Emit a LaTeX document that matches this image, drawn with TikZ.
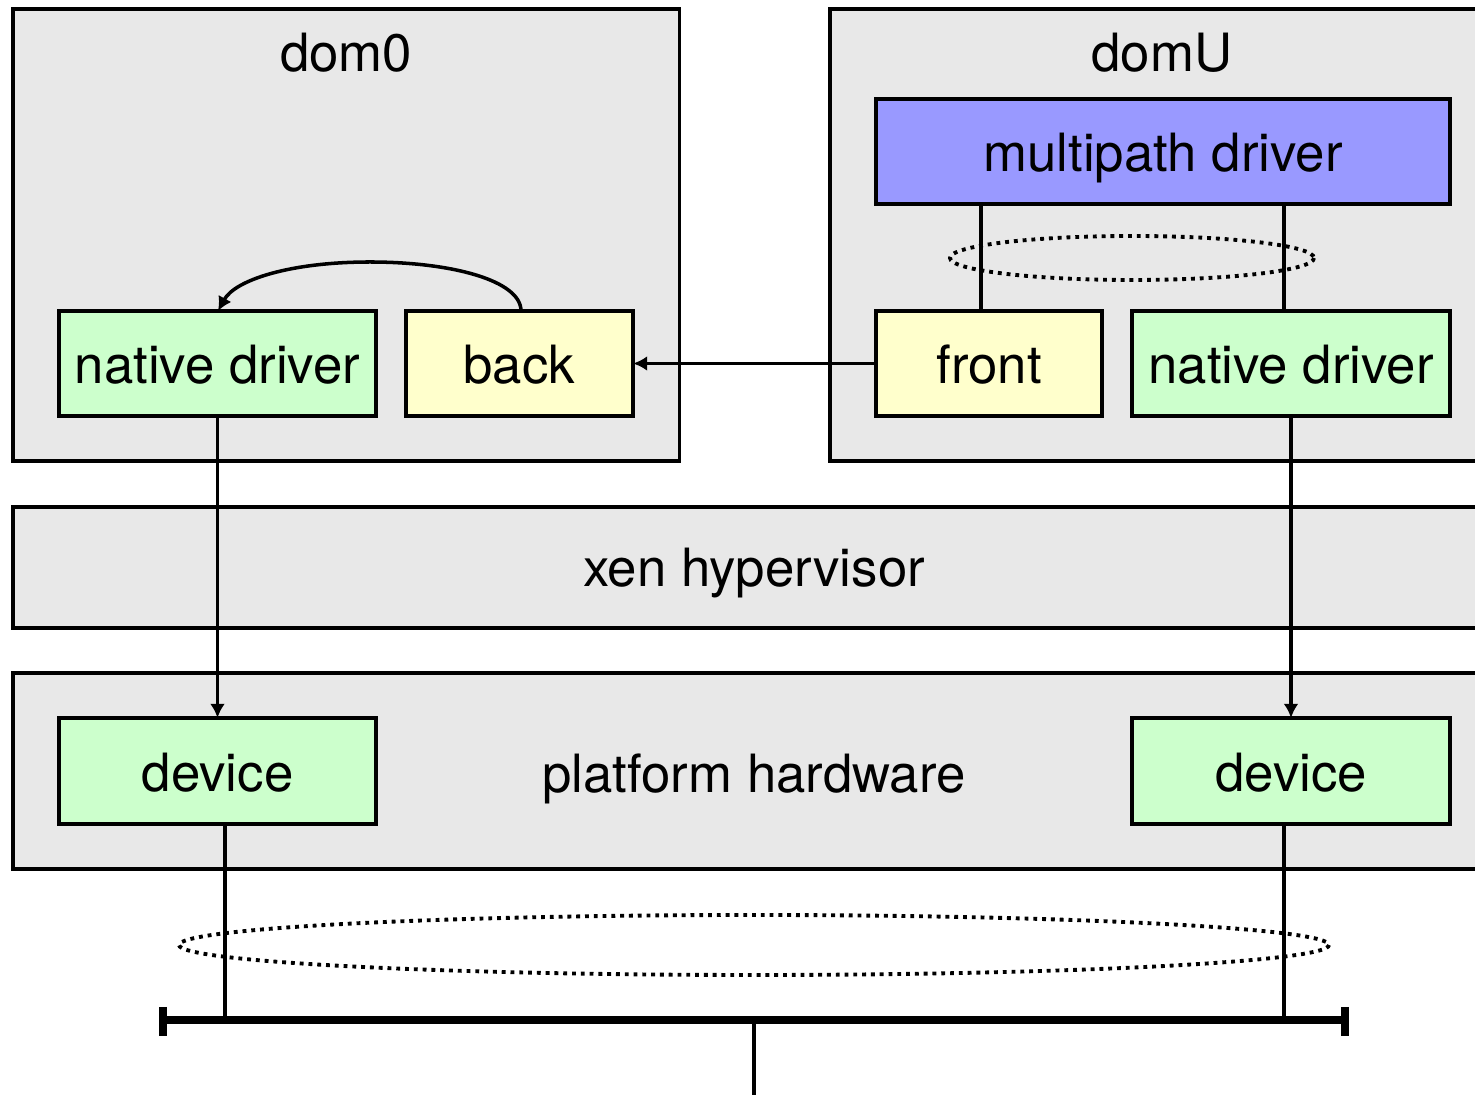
\documentclass[tikz,border=0pt]{standalone}
\usepackage{fontspec}
\setmainfont{TeX Gyre Heros}
\usetikzlibrary{arrows.meta}
\definecolor{panelgray}{HTML}{E8E8E8}
\definecolor{natgreen}{HTML}{CCFFCC}
\definecolor{pyellow}{HTML}{FFFFCC}
\definecolor{mpblue}{HTML}{9999FF}
\begin{document}
\begin{tikzpicture}[x=0.01cm,y=-0.01cm,
  panel/.style={draw, line width=1pt, fill=panelgray, inner sep=0pt, outer sep=0pt, anchor=north west},
  box/.style={draw, line width=1pt, inner sep=0pt, outer sep=0pt, text height=11.6pt, text depth=0pt, font=\fontsize{15}{18}\selectfont},
  lbl/.style={inner sep=0pt, anchor=base, font=\fontsize{15}{18}\selectfont},
  conn/.style={line width=1pt},
  arr/.style={conn, -{Latex[length=4pt,width=4.2pt]}},
  dots/.style={line width=1.1pt, dash pattern=on 1.1pt off 1.4pt}]
\useasboundingbox (0,0) rectangle (1475,1095);
\clip (0,0) rectangle (1475,1095);
\fill[white] (0,0) rectangle (1475,1095);
% panels
\node[panel, minimum width=6.66cm, minimum height=4.52cm] (dom0) at (13,9) {};
\node[panel, minimum width=6.70cm, minimum height=4.52cm] (domU) at (830,9) {};
\node[panel, minimum width=14.80cm, minimum height=1.21cm] (xen) at (13,507) {};
\node[panel, minimum width=14.80cm, minimum height=1.96cm] (plat) at (13,673) {};
\node[lbl] (dom0t) at (346,72) {dom0};
\node[lbl] (domUt) at (1162,72) {domU};
\node[lbl] (xent) at (754,587) {xen hypervisor};
\node[lbl] (platt) at (754,793) {platform hardware};
% boxes
\node[box, fill=mpblue, minimum width=5.74cm, minimum height=1.05cm] (mp) at (1163,151.5) {multipath driver};
\node[box, fill=natgreen, minimum width=3.17cm, minimum height=1.05cm] (nd0) at (217.5,363.5) {native driver};
\node[box, fill=pyellow, minimum width=2.27cm, minimum height=1.05cm] (back) at (519.5,363.5) {back};
\node[box, fill=pyellow, minimum width=2.26cm, minimum height=1.05cm] (front) at (989,363.5) {front};
\node[box, fill=natgreen, minimum width=3.18cm, minimum height=1.05cm] (ndU) at (1291,363.5) {native driver};
\node[box, fill=natgreen, minimum width=3.17cm, minimum height=1.06cm] (dev0) at (217.5,771) {device};
\node[box, fill=natgreen, minimum width=3.18cm, minimum height=1.06cm] (devU) at (1291,771) {device};
% multipath links
\draw[conn] (981,0 |- mp.south) -- (981,0 |- front.north);
\draw[conn] (1284,0 |- mp.south) -- (1284,0 |- ndU.north);
\draw[dots] (1132,258) ellipse [x radius=182, y radius=22];
% arrows
\draw[arr] (front.west) -- (back.east);
\draw[arr] (521,0 |- back.north) .. controls (521,280) and (450,262) .. (370,262)
   .. controls (290,262) and (235,280) .. (218,0 |- nd0.north);
\draw[arr] (nd0.south) -- (dev0.north);
\draw[arr] (ndU.south) -- (devU.north);
% bus
\coordinate (busL) at (163,1020);
\coordinate (busR) at (1345,1020);
\coordinate (busM) at (754,1020);
\coordinate (busEnd) at (754,1095);
\draw[conn] (225,0 |- dev0.south) -- (225,0 |- busL);
\draw[conn] (1284,0 |- devU.south) -- (1284,0 |- busR);
\draw[dots] (754,945) ellipse [x radius=575, y radius=30];
\draw[line width=2pt] (busL) -- (busR);
\draw[line width=2.3pt] (163,1007) -- (163,1036);
\draw[line width=2.3pt] (1345,1007) -- (1345,1036);
\draw[conn] (busM) -- (busEnd);
\end{tikzpicture}
\end{document}
